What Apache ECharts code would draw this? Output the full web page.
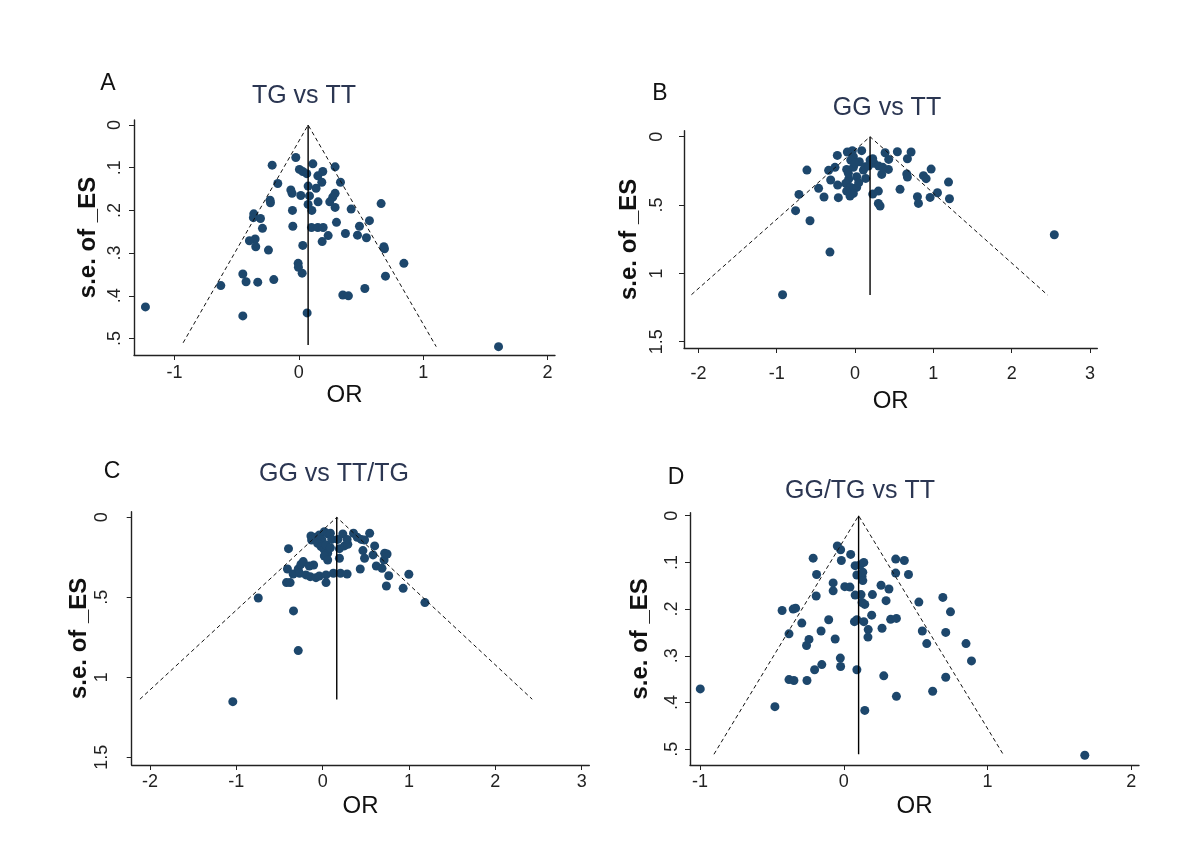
<!DOCTYPE html>
<html>
<head>
<meta charset="utf-8">
<script src="https://cdn.jsdelivr.net/npm/echarts@6/dist/echarts.min.js"></script>
<style>html,body{margin:0;padding:0;background:#fff}#c{width:1200px;height:858px}</style>
</head>
<body>
<div id="c"></div>
<script>
// ---------- DATA ----------
var panelLetters = ['A', 'B', 'C', 'D'];
var panelTitles = ['TG vs TT', 'GG vs TT', 'GG vs TT/TG', 'GG/TG vs TT'];
var xTicksA = [-1, 0, 1, 2];
var xTicksB = [-2, -1, 0, 1, 2, 3];
var xTicksC = [-2, -1, 0, 1, 2, 3];
var xTicksD = [-1, 0, 1, 2];
var yTicksA = [0, 0.1, 0.2, 0.3, 0.4, 0.5];
var yTicksB = [0, 0.5, 1, 1.5];
var yTicksC = [0, 0.5, 1, 1.5];
var yTicksD = [0, 0.1, 0.2, 0.3, 0.4, 0.5];

// pooled estimate, funnel apex at s.e. = 0
var pooled = [0.075, 0.192, 0.163, 0.103];
// bottom of vertical line (max s.e.)
var seMax = [0.515, 1.159, 1.138, 0.511];
// funnel lower-left and lower-right ends [OR, s.e.]
var funnelLeft = [[-0.93, 0.51], [-2.089, 1.156], [-2.117, 1.137], [-0.903, 0.511]];
var funnelRight = [[1.105, 0.519], [2.46, 1.159], [2.427, 1.137], [1.108, 0.511]];

// study points [OR, s.e.]
var pointsA = [[-1.233,0.426],[-0.450,0.447],[0.067,0.440],[1.606,0.519],[-0.024,0.076],[-0.214,0.094],[0.113,0.091],[0.292,0.098],[0.005,0.104],[0.032,0.109],[0.064,0.114],[0.193,0.109],[0.153,0.119],[-0.169,0.137],[0.335,0.134],[0.185,0.134],[-0.064,0.152],[0.075,0.143],[0.139,0.148],[-0.054,0.160],[0.016,0.165],[0.086,0.166],[0.292,0.160],[0.273,0.169],[-0.231,0.176],[-0.228,0.182],[0.155,0.180],[0.249,0.180],[0.075,0.186],[0.662,0.184],[0.292,0.193],[0.421,0.197],[-0.051,0.200],[0.105,0.200],[-0.362,0.208],[-0.365,0.217],[-0.308,0.219],[0.568,0.224],[0.303,0.228],[-0.048,0.237],[0.102,0.240],[0.153,0.240],[0.196,0.240],[0.488,0.237],[-0.292,0.242],[0.375,0.254],[0.472,0.258],[0.236,0.259],[0.544,0.264],[-0.351,0.267],[-0.397,0.271],[0.188,0.273],[0.032,0.282],[-0.346,0.285],[0.684,0.285],[0.689,0.290],[-0.244,0.293],[0.845,0.324],[-0.005,0.324],[-0.003,0.333],[0.027,0.347],[-0.450,0.349],[0.697,0.354],[-0.201,0.362],[-0.424,0.367],[-0.330,0.368],[-0.627,0.376],[0.531,0.383],[0.354,0.398],[0.399,0.400]];
var pointsB = [[2.545,0.717],[-0.925,1.156],[-0.320,0.844],[-0.575,0.615],[-0.759,0.541],[-0.716,0.422],[-0.614,0.244],[-0.465,0.378],[-0.396,0.441],[-0.337,0.246],[-0.311,0.317],[-0.226,0.137],[-0.256,0.224],[-0.222,0.354],[-0.213,0.446],[-0.098,0.112],[-0.034,0.102],[0.085,0.102],[-0.021,0.146],[-0.055,0.171],[-0.107,0.239],[-0.021,0.224],[-0.081,0.310],[-0.119,0.341],[-0.055,0.371],[0.021,0.371],[-0.064,0.434],[-0.021,0.415],[-0.107,0.398],[0.107,0.244],[0.136,0.305],[0.192,0.171],[0.243,0.195],[0.226,0.161],[0.303,0.215],[0.341,0.276],[0.226,0.420],[0.298,0.398],[0.298,0.488],[0.320,0.507],[0.384,0.117],[0.430,0.166],[0.426,0.239],[0.541,0.110],[0.716,0.112],[0.669,0.161],[0.575,0.385],[0.661,0.273],[0.669,0.295],[0.797,0.439],[0.810,0.488],[0.874,0.285],[0.908,0.307],[0.972,0.237],[0.959,0.444],[1.053,0.410],[1.194,0.332],[1.206,0.454],[0.055,0.183],[0.128,0.220],[0.354,0.224],[0.000,0.195],[0.021,0.293],[-0.085,0.268],[0.047,0.337],[0.171,0.215]];
var pointsC = [[-1.041,1.152],[-0.283,0.833],[-0.338,0.585],[-0.746,0.504],[-0.396,0.196],[-0.408,0.323],[-0.419,0.408],[-0.377,0.408],[-0.342,0.354],[-0.283,0.323],[-0.252,0.294],[-0.225,0.277],[-0.268,0.350],[-0.194,0.360],[-0.144,0.371],[-0.105,0.298],[-0.078,0.377],[-0.039,0.367],[0.039,0.408],[0.039,0.360],[0.124,0.350],[0.206,0.350],[0.283,0.354],[0.435,0.323],[-0.136,0.117],[-0.128,0.142],[-0.078,0.125],[-0.039,0.110],[0.019,0.090],[0.058,0.104],[0.089,0.100],[-0.008,0.142],[-0.058,0.163],[-0.019,0.183],[0.019,0.204],[0.058,0.225],[0.019,0.242],[0.039,0.173],[0.089,0.190],[0.175,0.138],[0.194,0.196],[0.194,0.256],[0.233,0.104],[0.252,0.179],[0.291,0.169],[0.283,0.138],[0.357,0.100],[0.400,0.125],[0.447,0.138],[0.485,0.142],[0.544,0.100],[0.466,0.208],[0.485,0.256],[0.602,0.179],[0.583,0.235],[0.621,0.304],[0.687,0.319],[0.718,0.225],[0.711,0.267],[0.746,0.229],[0.765,0.365],[0.738,0.429],[0.932,0.444],[0.998,0.356],[1.184,0.533],[-0.155,0.304],[0.058,0.267],[0.105,0.138]];
var pointsD = [[-0.998,0.371],[-0.479,0.409],[1.676,0.513],[0.146,0.417],[0.366,0.387],[0.618,0.376],[0.278,0.343],[0.709,0.346],[-0.381,0.351],[-0.347,0.353],[-0.256,0.353],[-0.203,0.330],[-0.153,0.319],[-0.024,0.305],[-0.022,0.323],[0.091,0.330],[0.888,0.311],[0.850,0.274],[0.577,0.274],[0.709,0.250],[0.546,0.247],[-0.259,0.278],[-0.242,0.265],[-0.060,0.264],[-0.158,0.247],[-0.381,0.253],[-0.292,0.230],[-0.105,0.223],[-0.429,0.203],[-0.352,0.200],[-0.335,0.198],[0.074,0.227],[0.091,0.223],[0.139,0.227],[0.170,0.244],[0.168,0.260],[0.194,0.213],[0.266,0.241],[0.326,0.222],[0.366,0.220],[0.742,0.206],[0.522,0.185],[0.689,0.175],[0.294,0.182],[0.146,0.190],[0.127,0.186],[0.199,0.169],[0.314,0.157],[0.259,0.149],[0.120,0.169],[0.079,0.170],[-0.192,0.172],[-0.074,0.161],[-0.074,0.144],[0.007,0.152],[0.043,0.153],[0.132,0.139],[0.127,0.130],[0.132,0.121],[0.079,0.107],[0.115,0.105],[0.139,0.100],[0.048,0.083],[-0.017,0.096],[-0.022,0.073],[-0.045,0.065],[-0.213,0.091],[-0.189,0.126],[0.361,0.093],[0.421,0.096],[0.361,0.123],[0.450,0.126],[0.091,0.127]];

// ---------- LAYOUT ----------
var panels = [
  {pts: pointsA, xt: xTicksA, yt: yTicksA, grid: {left:134, top:120, width:421, height:235},
   xr: [-1.325, 2.06], yr: [-0.0117, 0.5386], xm: 9, ym: 10, xng: 26, yng: 34,
   letter: [108, 84], title: [304, 98]},
  {pts: pointsB, xt: xTicksB, yt: yTicksB, grid: {left:684, top:130.7, width:413.3, height:217.3},
   xr: [-2.184, 3.094], yr: [-0.044, 1.546], xm: 17, ym: 18, xng: 41, yng: 43,
   letter: [660, 94], title: [887, 110]},
  {pts: pointsC, xt: xTicksC, yt: yTicksC, grid: {left:131.7, top:511.7, width:457.6, height:253.3},
   xr: [-2.212, 3.088], yr: [-0.035, 1.548], xm: 8, ym: 21, xng: 29, yng: 33,
   letter: [112, 472], title: [334, 476]},
  {pts: pointsD, xt: xTicksD, yt: yTicksD, grid: {left:690, top:512.7, width:449, height:252.3},
   xr: [-1.0695, 2.053], yr: [-0.0064, 0.534], xm: 8, ym: 9, xng: 29, yng: 38,
   letter: [676, 478], title: [860, 493]}
];

var FONT = '"Liberation Sans", Arial, sans-serif';
function fmtY(v) {
  if (v === 0) return '0';
  var s = String(Math.round(v * 10) / 10);
  return s.replace(/^0\./, '.');
}

var option = {
  backgroundColor: '#fff',
  animation: false,
  title: [], grid: [], xAxis: [], yAxis: [], series: []
};

panels.forEach(function (p, i) {
  option.grid.push({left: p.grid.left, top: p.grid.top, width: p.grid.width, height: p.grid.height, containLabel: false});
  option.title.push({text: panelLetters[i], left: p.letter[0], top: p.letter[1] - 12, textAlign: 'center', padding: 0,
    textStyle: {fontFamily: FONT, fontSize: 23, fontWeight: 'normal', color: '#111'}});
  option.title.push({text: panelTitles[i], left: p.title[0], top: p.title[1] - 14, textAlign: 'center', padding: 0,
    textStyle: {fontFamily: FONT, fontSize: 25, fontWeight: 'normal', color: '#2b3652'}});
  option.xAxis.push({
    type: 'value', gridIndex: i, min: p.xr[0], max: p.xr[1],
    name: 'OR', nameLocation: 'middle', nameGap: p.xng,
    nameTextStyle: {fontFamily: FONT, fontSize: 24, color: '#111'},
    axisLine: {show: true, onZero: false, lineStyle: {color: '#222', width: 1.4}},
    axisTick: {show: true, inside: false, length: 5, customValues: p.xt, lineStyle: {color: '#222'}},
    axisLabel: {show: true, customValues: p.xt, margin: p.xm, fontFamily: FONT, fontSize: 18, color: '#222',
      formatter: function (v) { return String(v); }},
    splitLine: {show: false}
  });
  option.yAxis.push({
    type: 'value', gridIndex: i, inverse: true, min: p.yr[0], max: p.yr[1],
    name: 's.e. of _ES', nameLocation: 'middle', nameGap: p.yng, nameRotate: 90,
    nameTextStyle: {fontFamily: FONT, fontSize: 24, fontWeight: 'bold', color: '#111'},
    axisLine: {show: true, onZero: false, lineStyle: {color: '#222', width: 1.4}},
    axisTick: {show: true, inside: false, length: 5, customValues: p.yt, lineStyle: {color: '#222'}},
    axisLabel: {show: true, customValues: p.yt, margin: p.ym, rotate: 90, fontFamily: FONT, fontSize: 18, color: '#222',
      formatter: fmtY},
    splitLine: {show: false}
  });
  option.series.push({
    type: 'scatter', xAxisIndex: i, yAxisIndex: i, data: p.pts, symbol: 'circle', symbolSize: 9,
    itemStyle: {color: '#1d476c', opacity: 1}, z: 2
  });
  option.series.push({
    type: 'line', xAxisIndex: i, yAxisIndex: i, data: [[pooled[i], 0], [pooled[i], seMax[i]]],
    symbol: 'none', lineStyle: {color: '#000', width: 1.4, type: 'solid'}, z: 3, silent: true
  });
  option.series.push({
    type: 'line', xAxisIndex: i, yAxisIndex: i, data: [funnelLeft[i], [pooled[i], 0], funnelRight[i]],
    symbol: 'none', lineStyle: {color: '#111', width: 1, type: [4, 3]}, z: 3, silent: true
  });
});

var chart = echarts.init(document.getElementById('c'), null, {renderer: 'canvas'});
chart.setOption(option);
</script>
</body>
</html>
